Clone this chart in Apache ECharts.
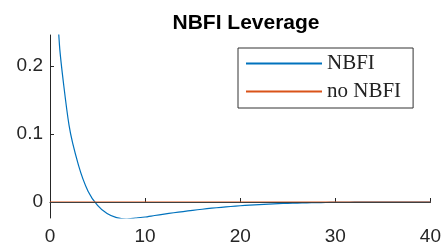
<!DOCTYPE html>
<html>
<head>
<meta charset="utf-8">
<script src="https://cdn.jsdelivr.net/npm/echarts@6/dist/echarts.min.js"></script>
<style>
  html, body { margin: 0; padding: 0; background: #fff; }
  #chart { width: 444px; height: 250px; }
</style>
</head>
<body>
<div id="chart"></div>
<script>
// horizon (periods)
const periods = [0, 1, 2, 3, 4, 5, 6, 7, 8, 9, 10, 11, 12, 13, 14, 15, 16, 17, 18, 19, 20,
  21, 22, 23, 24, 25, 26, 27, 28, 29, 30, 31, 32, 33, 34, 35, 36, 37, 38, 39, 40]
// impulse response
const nbfi = [0.5, 0.23, 0.113, 0.054, 0.016, -0.005, -0.017, -0.023, -0.025, -0.0235, -0.022,
  -0.0198, -0.0178, -0.0158, -0.014, -0.0122, -0.0106, -0.0091, -0.0078, -0.0066, -0.0055,
  -0.0045, -0.0037, -0.003, -0.0024, -0.0019, -0.0015, -0.0012, -0.0009, -0.0007, -0.0005,
  -0.0004, -0.0003, -0.0002, -0.0002, -0.0001, -0.0001, -0.0001, 0, 0, 0]
const noNbfi = periods.map(() => 0)
const yTicks = [0, 0.1, 0.2]

const chart = echarts.init(document.getElementById('chart'), null, { renderer: 'canvas' })

const axisCol = '#262626'
const option = {
  animation: false,
  title: {
    text: 'NBFI Leverage',
    left: 241,
    textAlign: 'center',
    top: 8,
    textStyle: { fontFamily: 'Liberation Sans', fontWeight: 'bold', fontSize: 21, color: '#000' }
  },
  legend: {
    orient: 'vertical',
    left: 238,
    top: 48,
    itemWidth: 76,
    itemHeight: 2,
    itemGap: 7,
    padding: [5, 12, 6, 8],
    borderColor: '#333',
    borderWidth: 1,
    backgroundColor: '#fff',
    icon: 'rect',
    textStyle: { fontFamily: 'Liberation Serif', fontSize: 21, color: '#222', lineHeight: 18 },
    data: ['NBFI', 'no NBFI']
  },
  grid: { left: 50, right: 12, top: 35, bottom: 32 },
  xAxis: {
    type: 'value',
    min: 0,
    max: 40,
    interval: 10,
    splitLine: { show: false },
    axisLine: { lineStyle: { color: axisCol, width: 1 } },
    axisTick: { inside: true, length: 4, lineStyle: { color: axisCol } },
    axisLabel: { color: axisCol, fontFamily: 'Liberation Sans', fontSize: 19, margin: 9 }
  },
  yAxis: {
    type: 'value',
    min: -0.0235,
    max: 0.2456,
    splitLine: { show: false },
    axisLine: { show: true, onZero: false, lineStyle: { color: axisCol, width: 1 } },
    axisTick: { inside: true, length: 4, customValues: yTicks, lineStyle: { color: axisCol } },
    axisLabel: { color: axisCol, fontFamily: 'Liberation Sans', fontSize: 19, margin: 7, customValues: yTicks }
  },
  series: [
    {
      name: 'NBFI',
      type: 'line',
      data: periods.map((p, i) => [p, nbfi[i]]),
      showSymbol: false,
      clip: true,
      smooth: 0.2,
      color: '#0072BD',
      lineStyle: { width: 1.2 }
    },
    {
      name: 'no NBFI',
      type: 'line',
      data: periods.map((p, i) => [p, noNbfi[i]]),
      showSymbol: false,
      clip: true,
      color: '#D95319',
      lineStyle: { width: 1.2 },
      markLine: {
        silent: true,
        symbol: 'none',
        label: { show: false },
        lineStyle: { color: '#404040', width: 1.2, type: 'solid' },
        data: [{ yAxis: 0 }]
      }
    }
  ]
}
chart.setOption(option)
window.addEventListener('resize', chart.resize)
</script>
</body>
</html>
